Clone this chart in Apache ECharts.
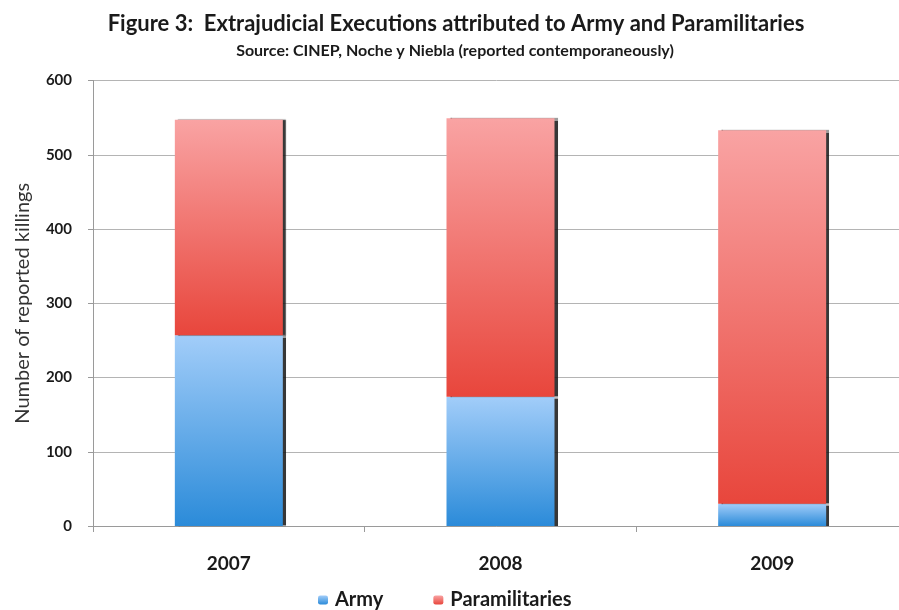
<!DOCTYPE html>
<html>
<head>
<meta charset="utf-8">
<script src="https://cdn.jsdelivr.net/npm/echarts@6/dist/echarts.min.js"></script>
<style>
  html, body { margin: 0; padding: 0; background: #ffffff; }
  #chart { width: 899px; height: 610px; }
</style>
</head>
<body>
<div id="chart"></div>
<script>
// Reported extrajudicial executions by year and perpetrator
const years = ['2007', '2008', '2009'];
const army = [257, 174, 30];
const paramilitaries = [290, 375, 503];
const yTicks = { min: 0, max: 600, interval: 100 };

const FONT = 'Lato, "Open Sans", sans-serif';

function grad(top, bottom) {
  return new echarts.graphic.LinearGradient(0, 0, 0, 1, [
    { offset: 0, color: top },
    { offset: 1, color: bottom }
  ]);
}

const armyFill = grad('#a2cdf9', '#2b8bd9');
const paraFill = grad('#f9a3a3', '#e8463c');

const barStyle = (fill) => ({
  color: fill,
  shadowColor: 'rgba(20,20,20,0.85)',
  shadowBlur: 1,
  shadowOffsetX: 3,
  shadowOffsetY: 0
});

const chart = echarts.init(document.getElementById('chart'), null, { renderer: 'canvas' });
chart.setOption({
  backgroundColor: '#ffffff',
  animation: false,
  title: [
    {
      text: 'Figure 3:  Extrajudicial Executions attributed to Army and Paramilitaries',
      left: 456,
      textAlign: 'center',
      top: 13,
      padding: 0,
      textStyle: { fontFamily: FONT, fontWeight: 'bold', fontSize: 22, color: '#1a1a1a' }
    },
    {
      text: 'Source: CINEP, Noche y Niebla (reported contemporaneously)',
      left: 455,
      textAlign: 'center',
      top: 43,
      padding: 0,
      textStyle: { fontFamily: FONT, fontWeight: 'bold', fontSize: 16, color: '#1a1a1a' }
    }
  ],
  legend: {
    top: 590,
    left: 318,
    padding: 0,
    itemWidth: 10,
    itemHeight: 9,
    itemGap: 50,
    textStyle: { fontFamily: FONT, fontWeight: 'bold', fontSize: 20, color: '#1a1a1a', padding: [0, 0, 0, 2] },
    data: [
      { name: 'Army', itemStyle: { color: armyFill } },
      { name: 'Paramilitaries', itemStyle: { color: paraFill } }
    ]
  },
  grid: { left: 93, top: 80.5, width: 815, height: 445.5, outerBoundsMode: 'none', containLabel: false },
  xAxis: {
    type: 'category',
    data: years,
    boundaryGap: true,
    axisLine: { lineStyle: { color: '#9a9a9a', width: 1 } },
    axisTick: { show: true, length: 6, lineStyle: { color: '#9a9a9a' } },
    axisLabel: { margin: 28, fontFamily: FONT, fontWeight: 'bold', fontSize: 19, color: '#1a1a1a' }
  },
  yAxis: {
    type: 'value',
    min: yTicks.min,
    max: yTicks.max,
    interval: yTicks.interval,
    name: 'Number of reported killings',
    nameLocation: 'middle',
    nameGap: 60,
    nameTextStyle: { fontFamily: FONT, fontSize: 20, color: '#333333' },
    axisLine: { show: true, lineStyle: { color: '#9a9a9a', width: 1 } },
    axisTick: { show: true, length: 5, lineStyle: { color: '#9a9a9a' } },
    axisLabel: { margin: 21, fontFamily: FONT, fontWeight: 'bold', fontSize: 15, color: '#1a1a1a' },
    splitLine: { show: true, lineStyle: { color: '#b4b4b4', width: 1 } }
  },
  series: [
    {
      name: 'Army',
      type: 'bar',
      stack: 'total',
      barWidth: 108,
      data: army,
      itemStyle: barStyle(armyFill)
    },
    {
      name: 'Paramilitaries',
      type: 'bar',
      stack: 'total',
      barWidth: 108,
      data: paramilitaries,
      itemStyle: barStyle(paraFill)
    }
  ]
});
</script>
</body>
</html>
